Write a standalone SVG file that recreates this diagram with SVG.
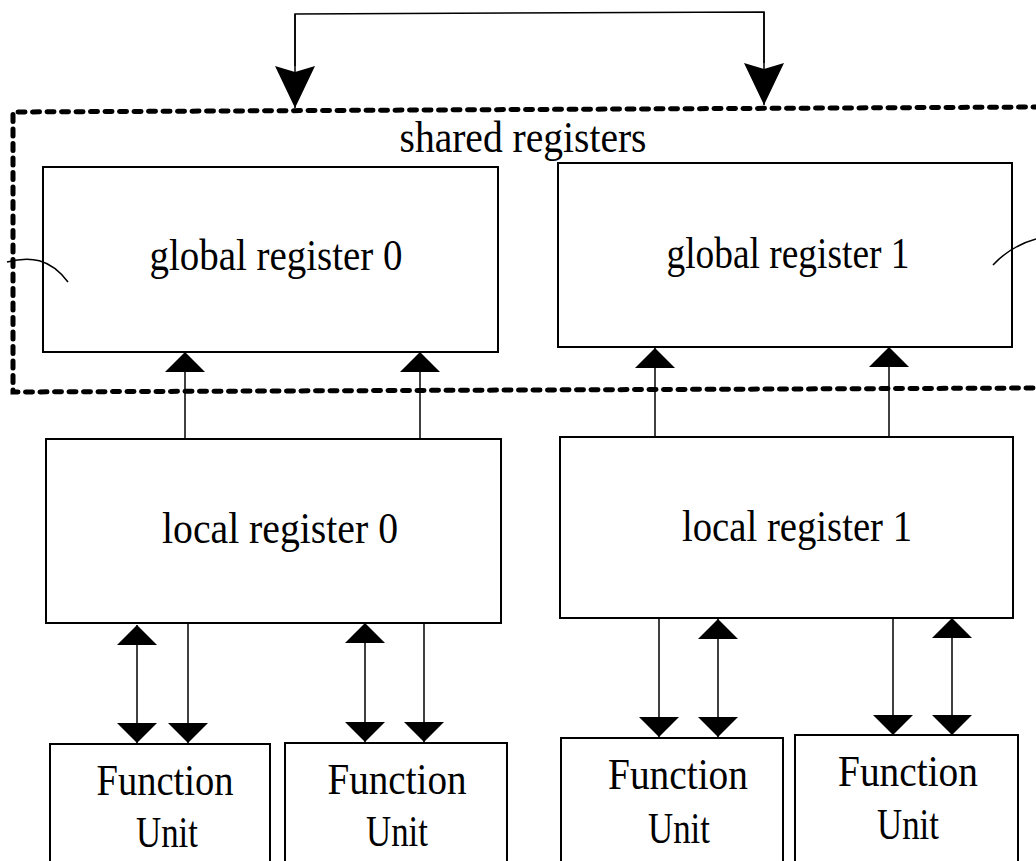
<svg xmlns="http://www.w3.org/2000/svg" width="1036" height="861" viewBox="0 0 1036 861">
<style>
.box{fill:#fff;stroke:#000;stroke-width:2}
.lbl{font-family:"Liberation Serif","Times New Roman",serif;font-size:45px;fill:#000;text-anchor:middle}
.ln{fill:none;stroke:#000;stroke-width:1.5}
.dash{fill:none;stroke:#000;stroke-width:5;stroke-dasharray:7 7.5;stroke-linecap:round}
</style>
<defs>
<marker id="ah" markerUnits="userSpaceOnUse" viewBox="0 0 20 40" refX="20" refY="20" markerWidth="20" markerHeight="40" orient="auto-start-reverse">
<path d="M0,0 L20,20 L0,40 z" fill="#000"/>
</marker>
<marker id="big" markerUnits="userSpaceOnUse" viewBox="0 0 42 40" refX="42" refY="20" markerWidth="42" markerHeight="40" orient="auto">
<path d="M0,0 L6,20 L0,40 L42,20 z" fill="#000"/>
</marker>
</defs>
<rect width="1036" height="861" fill="#fff"/>
<g id="shared">
<path class="dash" d="M1040,107 L13,112 L13,392 L1040,388"/>
<text class="lbl" x="523" y="152" textLength="247" lengthAdjust="spacingAndGlyphs">shared registers</text>
</g>
<g id="global0">
<rect class="box" x="43" y="167" width="455" height="185"/>
<text class="lbl" x="276" y="270" textLength="253" lengthAdjust="spacingAndGlyphs">global register 0</text>
</g>
<g id="global1">
<rect class="box" x="558" y="163" width="454" height="184"/>
<text class="lbl" x="788" y="268" textLength="243" lengthAdjust="spacingAndGlyphs">global register 1</text>
</g>
<g id="local0">
<rect class="box" x="46" y="439" width="455" height="184"/>
<text class="lbl" x="280" y="543" textLength="236" lengthAdjust="spacingAndGlyphs">local register 0</text>
</g>
<g id="local1">
<rect class="box" x="560" y="437" width="453" height="181"/>
<text class="lbl" x="797" y="541" textLength="230" lengthAdjust="spacingAndGlyphs">local register 1</text>
</g>
<g id="fu0">
<rect class="box" x="50" y="744" width="220" height="130"/>
<text class="lbl" x="165" y="795" textLength="137" lengthAdjust="spacingAndGlyphs">Function</text>
<text class="lbl" x="167" y="847" textLength="62" lengthAdjust="spacingAndGlyphs">Unit</text>
</g>
<g id="fu1">
<rect class="box" x="285" y="743" width="222" height="130"/>
<text class="lbl" x="397" y="794" textLength="139" lengthAdjust="spacingAndGlyphs">Function</text>
<text class="lbl" x="397" y="846" textLength="62" lengthAdjust="spacingAndGlyphs">Unit</text>
</g>
<g id="fu2">
<rect class="box" x="561" y="738" width="222" height="135"/>
<text class="lbl" x="678" y="789" textLength="140" lengthAdjust="spacingAndGlyphs">Function</text>
<text class="lbl" x="679" y="843" textLength="62" lengthAdjust="spacingAndGlyphs">Unit</text>
</g>
<g id="fu3">
<rect class="box" x="795" y="735" width="223" height="138"/>
<text class="lbl" x="908" y="786" textLength="140" lengthAdjust="spacingAndGlyphs">Function</text>
<text class="lbl" x="908" y="839" textLength="62" lengthAdjust="spacingAndGlyphs">Unit</text>
</g>
<g id="connectors">
<path class="ln" d="M7,262 C30,256 50,258 68,282"/>
<path class="ln" d="M993,265 C1005,252 1018,244 1036,239"/>
<path class="ln" d="M764,63 L764,12 L295,14 L295,66"/>
<path class="ln" d="M295,14 L295,108" marker-end="url(#big)"/>
<path class="ln" d="M764,12 L764,105" marker-end="url(#big)"/>
<path class="ln" d="M185,439 L185,352" marker-end="url(#ah)"/>
<path class="ln" d="M420,439 L420,352" marker-end="url(#ah)"/>
<path class="ln" d="M655,437 L655,348" marker-end="url(#ah)"/>
<path class="ln" d="M889,437 L889,347" marker-end="url(#ah)"/>
<path class="ln" d="M137,625 L137,743" marker-start="url(#ah)" marker-end="url(#ah)"/>
<path class="ln" d="M188,623 L188,743" marker-end="url(#ah)"/>
<path class="ln" d="M365,623 L365,742" marker-start="url(#ah)" marker-end="url(#ah)"/>
<path class="ln" d="M424,623 L424,742" marker-end="url(#ah)"/>
<path class="ln" d="M659,618 L659,737" marker-end="url(#ah)"/>
<path class="ln" d="M718,619 L718,737" marker-start="url(#ah)" marker-end="url(#ah)"/>
<path class="ln" d="M893,617 L893,735" marker-end="url(#ah)"/>
<path class="ln" d="M952,618 L952,735" marker-start="url(#ah)" marker-end="url(#ah)"/>
</g>
</svg>
